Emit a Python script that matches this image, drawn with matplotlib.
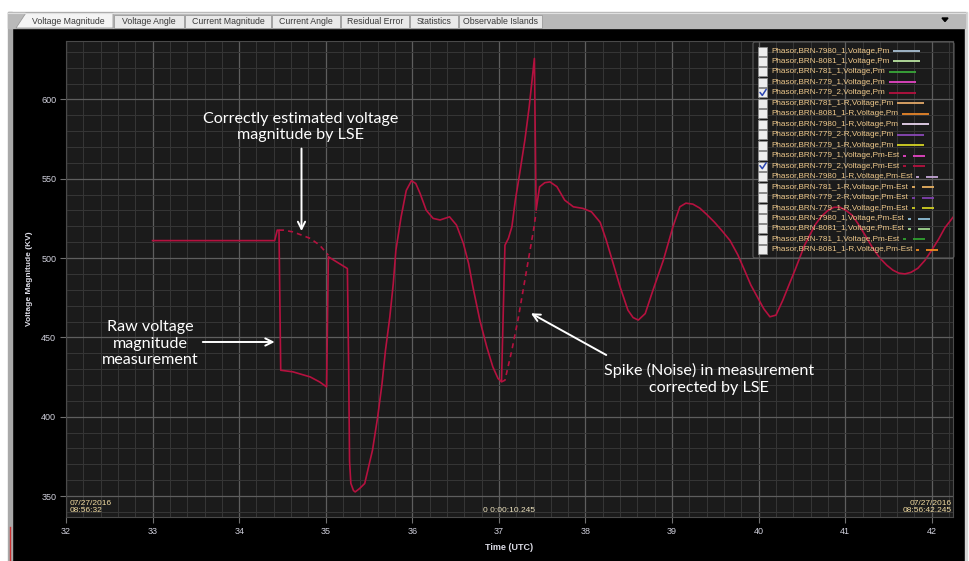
import matplotlib
matplotlib.use("Agg")
import matplotlib.pyplot as plt
from matplotlib.patches import Rectangle, Polygon, FancyBboxPatch
from matplotlib.ticker import MultipleLocator

# Voltage magnitude of Phasor BRN-779_2 (raw PMU measurement), kV vs seconds
raw_t = [33.00, 34.41, 34.44, 34.46, 34.48, 34.62, 34.82, 34.93, 35.01, 35.03,
         35.25, 35.265, 35.275, 35.29, 35.32, 35.34, 35.39, 35.45, 35.54, 35.60,
         35.65, 35.69, 35.74, 35.78, 35.81, 35.87, 35.93, 35.99, 36.04, 36.09,
         36.16, 36.24, 36.32, 36.43, 36.51, 36.59, 36.65, 36.70, 36.78, 36.86,
         36.93, 36.99, 37.03, 37.05, 37.07, 37.11, 37.15, 37.19, 37.24, 37.30,
         37.35, 37.41, 37.43, 37.47, 37.53, 37.59, 37.67, 37.76, 37.86, 37.97,
         38.07, 38.17, 38.24, 38.32, 38.40, 38.49, 38.55, 38.61, 38.69, 38.78,
         38.90, 39.01, 39.09, 39.16, 39.24, 39.32, 39.40, 39.49, 39.58, 39.67,
         39.76, 39.84, 39.91, 39.98, 40.06, 40.13, 40.20, 40.28, 40.35, 40.42,
         40.53, 40.65, 40.72, 40.80, 40.87, 40.94, 41.01, 41.08, 41.15, 41.23,
         41.31, 41.40, 41.48, 41.55, 41.62, 41.69, 41.76, 41.84, 41.92, 42.00,
         42.08, 42.15, 42.245]
raw_v = [511.0, 511.0, 517.6, 517.6, 429.3, 428.3, 425.1, 421.9, 418.8, 500.8,
         493.4, 430.0, 372.0, 358.0, 353.5, 352.6, 354.7, 357.9, 378.9, 399.9,
         420.8, 441.8, 462.8, 483.8, 504.8, 525.8, 542.6, 548.7, 547.0, 540.7,
         530.2, 525.0, 524.0, 526.0, 520.8, 509.2, 496.6, 481.8, 460.8, 444.0,
         431.4, 424.1, 422.0, 465.0, 508.1, 512.4, 519.7, 536.5, 553.3, 574.3,
         595.3, 625.8, 530.2, 544.9, 547.5, 548.0, 545.0, 536.5, 532.3, 531.3,
         529.1, 522.5, 511.3, 496.6, 481.8, 467.2, 462.5, 460.9, 465.0, 479.8,
         498.7, 519.7, 532.3, 534.6, 534.0, 531.5, 527.5, 522.6, 517.0, 511.0,
         502.0, 492.0, 483.0, 476.0, 468.0, 463.0, 464.0, 473.5, 483.0, 492.4,
         508.0, 520.7, 526.0, 530.0, 532.0, 532.0, 530.0, 527.0, 521.5, 514.4,
         507.0, 500.0, 495.5, 492.4, 490.5, 490.0, 491.0, 493.6, 498.5, 505.0,
         512.0, 519.0, 525.7]

# LSE estimate where it departs from the raw measurement
est_box_t = [34.46, 34.51, 34.62, 34.72, 34.82, 34.93, 35.03]
est_box_v = [517.6, 517.6, 516.5, 514.5, 512.4, 508.1, 501.8]
est_spike_t = [37.03, 37.07, 37.15, 37.22, 37.28, 37.34, 37.40, 37.43]
est_spike_v = [422.0, 423.0, 442.0, 461.0, 479.8, 498.7, 517.6, 529.0]

x_ticks = [32, 33, 34, 35, 36, 37, 38, 39, 40, 41, 42]
y_ticks = [350, 400, 450, 500, 550, 600]

tabs = ["Voltage Magnitude", "Voltage Angle", "Current Magnitude", "Current Angle",
        "Residual Error", "Statistics", "Observable Islands"]
tab_edges = [16, 114, 185, 272, 341, 410, 459, 543]

series_names = [
    "Phasor,BRN-7980_1,Voltage,Pm", "Phasor,BRN-8081_1,Voltage,Pm",
    "Phasor,BRN-781_1,Voltage,Pm", "Phasor,BRN-779_1,Voltage,Pm",
    "Phasor,BRN-779_2,Voltage,Pm", "Phasor,BRN-781_1-R,Voltage,Pm",
    "Phasor,BRN-8081_1-R,Voltage,Pm", "Phasor,BRN-7980_1-R,Voltage,Pm",
    "Phasor,BRN-779_2-R,Voltage,Pm", "Phasor,BRN-779_1-R,Voltage,Pm",
    "Phasor,BRN-779_1,Voltage,Pm-Est", "Phasor,BRN-779_2,Voltage,Pm-Est",
    "Phasor,BRN-7980_1-R,Voltage,Pm-Est", "Phasor,BRN-781_1-R,Voltage,Pm-Est",
    "Phasor,BRN-779_2-R,Voltage,Pm-Est", "Phasor,BRN-779_1-R,Voltage,Pm-Est",
    "Phasor,BRN-7980_1,Voltage,Pm-Est", "Phasor,BRN-8081_1,Voltage,Pm-Est",
    "Phasor,BRN-781_1,Voltage,Pm-Est", "Phasor,BRN-8081_1-R,Voltage,Pm-Est",
]
series_checked = [False, False, False, False, True, False, False, False, False, False,
                  False, True, False, False, False, False, False, False, False, False]
series_colors = ["#a9c1d3", "#b9e3a0", "#3aa83a", "#e444c4", "#b5113f",
                 "#e3a868", "#e8862a", "#e8d4ee", "#8a48b8", "#d6d424",
                 "#e444c4", "#b5113f", "#c4a6d6", "#e8b060", "#8040b0",
                 "#d0d020", "#90c0d8", "#a0d890", "#30a030", "#f08a20"]

LINE = "#b5113f"
UI_FONT = "Liberation Sans"

fig = plt.figure(figsize=(9.7, 5.61), dpi=100)
fig.patch.set_facecolor("white")

# window chrome in pixel coordinates
chrome = fig.add_axes([0, 0, 1, 1], zorder=0)
chrome.set_xlim(0, 970)
chrome.set_ylim(561, 0)
chrome.axis("off")
chrome.add_patch(Rectangle((12, 28), 953, 533, color="black"))
chrome.add_patch(Rectangle((8, 12), 4, 549, color="#a9a9a9"))
chrome.plot([10, 10], [527, 561], color="#cc3030", lw=1)
chrome.add_patch(Rectangle((965, 12), 2, 549, color="#d6d6d6"))
chrome.add_patch(Rectangle((8, 12), 957, 16, color="#b9b9b9"))
chrome.plot([8, 965], [12.5, 12.5], color="#e0e0e0", lw=0.8)

for i, name in enumerate(tabs):
    x0, x1 = tab_edges[i], tab_edges[i + 1] - 1
    if i == 0:
        chrome.add_patch(Polygon([(x0, 28), (x0 + 10, 12.8), (x1, 12.8), (x1, 28)],
                                 closed=True, fc="#f4f4f4", ec="#9a9a9a", lw=0.6))
        cx = (x0 + x1) / 2 + 4
    else:
        chrome.add_patch(Rectangle((x0, 14.5), x1 - x0, 13, fc="#e9e9e9",
                                   ec="#9c9c9c", lw=0.6))
        cx = (x0 + x1) / 2
    chrome.text(cx, 21, name, ha="center", va="center", fontsize=6.3,
                color="#3a3a3a", family=UI_FONT)
chrome.add_patch(Polygon([(942, 18), (948, 18), (945, 21.5)], closed=True, color="black"))

# main chart
ax = fig.add_axes([66 / 970, 44 / 561, 887 / 970, 476 / 561], zorder=1)
ax.set_facecolor("#1b1b1b")
ax.plot(raw_t, raw_v, color=LINE, lw=1.2, solid_joinstyle="round")
ax.plot(est_box_t, est_box_v, color=LINE, lw=1.2, dashes=(3, 2.5))
ax.plot(est_spike_t, est_spike_v, color=LINE, lw=1.2, dashes=(3, 2.5))

ax.set_xlim(32, 42.245)
ax.set_ylim(336.8, 636.8)
ax.set_xticks(x_ticks)
ax.set_yticks(y_ticks)
ax.xaxis.set_minor_locator(MultipleLocator(0.2))
ax.yaxis.set_minor_locator(MultipleLocator(10))
ax.grid(which="major", color="#5e5e5e", lw=0.9)
ax.grid(which="minor", color="#363636", lw=0.7)
ax.set_axisbelow(True)
ax.tick_params(which="major", length=4, width=0.8, color="#707070",
               labelsize=6.5, labelcolor="#d2d2de", pad=3)
ax.tick_params(which="minor", length=0)
for lab in ax.get_xticklabels() + ax.get_yticklabels():
    lab.set_family(UI_FONT)
for sp in ax.spines.values():
    sp.set_color("#4a4a4a")
ax.set_xlabel("Time (UTC)", fontsize=6.5, fontweight="bold", color="#dcdce6",
              family=UI_FONT, labelpad=5)
ax.set_ylabel("Voltage Magnitude (KV)", fontsize=6, fontweight="bold",
              color="#dcdce6", family=UI_FONT, labelpad=6)

ax.text(0.0045, 0.007, "07/27/2016\n08:56:32", transform=ax.transAxes, ha="left",
        va="bottom", fontsize=6, color="#f0daa0", family=UI_FONT, linespacing=1.0)
ax.text(0.5, 0.007, "0 0:00:10.245", transform=ax.transAxes, ha="center",
        va="bottom", fontsize=6, color="#efe4c0", family=UI_FONT)
ax.text(0.9985, 0.007, "07/27/2016\n08:56:42.245", transform=ax.transAxes,
        ha="right", va="bottom", fontsize=6, color="#f0daa0", family=UI_FONT,
        linespacing=1.0, multialignment="right")

# callouts
arrow = dict(arrowstyle="->", color="white", lw=1.4, mutation_scale=13,
             shrinkA=0, shrinkB=0)
note_font = dict(color="white", fontsize=11.6, family="Lato", ha="center",
                 va="center", linespacing=1.25)
ax.annotate("", xy=(34.72, 517.0), xytext=(34.72, 569.0), arrowprops=arrow)
ax.text(34.71, 582.6, "Correctly estimated voltage\nmagnitude by LSE", **note_font)
ax.annotate("", xy=(34.41, 447.1), xytext=(33.58, 447.1), arrowprops=arrow)
ax.text(32.97, 446.0, "Raw voltage\nmagnitude\nmeasurement", **note_font)
ax.annotate("", xy=(37.37, 465.2), xytext=(38.24, 438.9), arrowprops=arrow)
ax.text(39.43, 423.8, "Spike (Noise) in measurement\ncorrected by LSE", **note_font)

# series picker legend, pixel coordinates on top of the chart
lg = fig.add_axes([0, 0, 1, 1], zorder=2)
lg.set_xlim(0, 970)
lg.set_ylim(561, 0)
lg.axis("off")
lg.add_patch(FancyBboxPatch((753, 42), 201, 216,
                            boxstyle="round,pad=0,rounding_size=2",
                            fc="none", ec="#5a5a5a", lw=0.8))
labels = []
for i, name in enumerate(series_names):
    y = 51 + i * 10.47
    lg.add_patch(Rectangle((758, y - 4.5), 9, 9, fc="#ededed", ec="#8c8c8c", lw=0.6))
    if series_checked[i]:
        lg.plot([760, 762.3, 766.2], [y - 0.5, y + 2.5, y - 3.5], color="#2a44b0",
                lw=1.1, solid_capstyle="round")
    labels.append(lg.text(771, y, name, ha="left", va="center", fontsize=5.9,
                          color="#efc98c", family=UI_FONT))

fig.canvas.draw()
renderer = fig.canvas.get_renderer()
for i, (name, txt) in enumerate(zip(series_names, labels)):
    y = 51 + i * 10.47
    x_end = txt.get_window_extent(renderer).x1
    c = series_colors[i]
    if name.endswith("Est"):
        lg.plot([x_end + 4, x_end + 7], [y, y], color=c, lw=1.3, solid_capstyle="butt")
        lg.plot([x_end + 14, x_end + 26], [y, y], color=c, lw=1.3, solid_capstyle="butt")
    else:
        lg.plot([x_end + 4, x_end + 31], [y, y], color=c, lw=1.3, solid_capstyle="butt")

fig.savefig("out.png", dpi=100, facecolor=fig.get_facecolor())
